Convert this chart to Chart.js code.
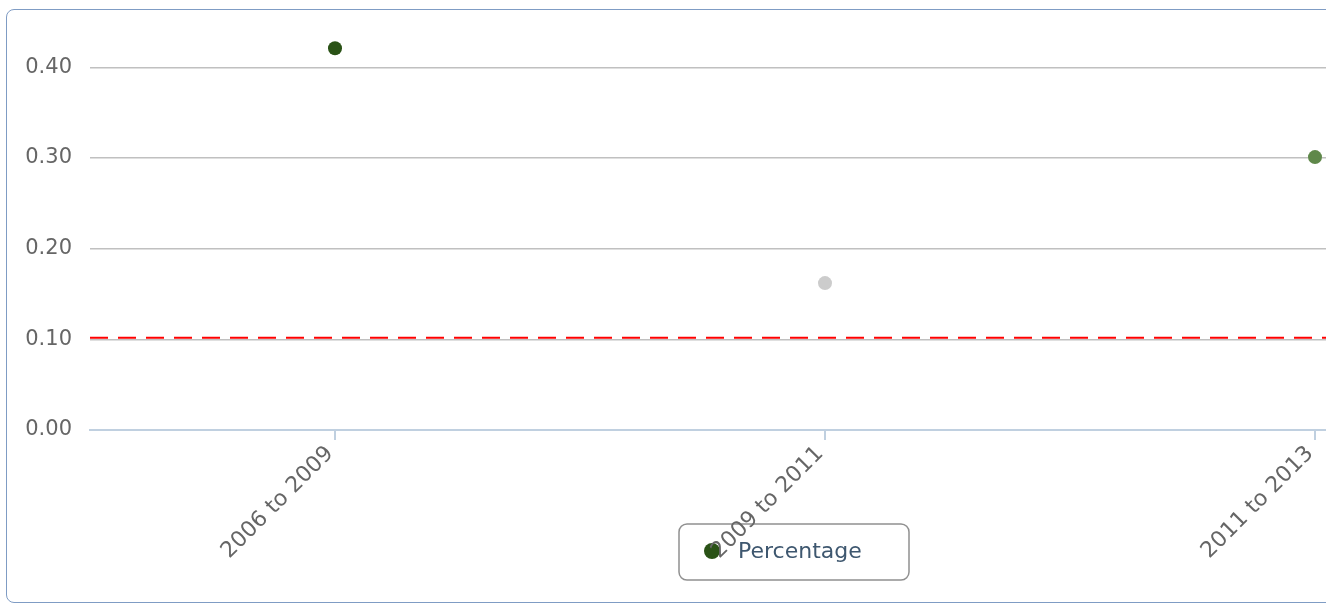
<!DOCTYPE html>
<html>
<head>
<meta charset="utf-8">
<title>Percentage</title>
<script src="https://cdn.jsdelivr.net/npm/chart.js@4"></script>
<style>
  html, body { margin: 0; padding: 0; background: #fff; overflow: hidden; }
  #box {
    position: absolute; left: 6px; top: 9px;
    width: 1574px; height: 592px;
    border: 1px solid #7f9cc4; border-radius: 8px;
  }
  #chart { display: block; }
</style>
</head>
<body>
<div id="box"><canvas id="chart" width="1574" height="592"></canvas></div>
<script>
// data
const categories = ['2006 to 2009', '2009 to 2011', '2011 to 2013'];
const percentage = [0.421, 0.162, 0.301];
const pointColors = ['#2a5216', '#cccccc', '#5f884a'];
const yTicks = [0, 0.1, 0.2, 0.3, 0.4];
const threshold = 0.1;
const seriesName = 'Percentage';

const FONT = 'DejaVu Sans, Verdana, sans-serif';

// red dashed threshold across the plot
const thresholdLine = {
  id: 'thresholdLine',
  afterDatasetsDraw(chart) {
    const { ctx, chartArea } = chart;
    const y = chart.scales.y.getPixelForValue(threshold) - 1.5;
    ctx.save();
    ctx.strokeStyle = '#ff0000';
    ctx.lineWidth = 2;
    ctx.setLineDash([18, 10]);
    ctx.beginPath();
    ctx.moveTo(chartArea.left, y);
    ctx.lineTo(chartArea.right, y);
    ctx.stroke();
    ctx.restore();
  }
};

// boxed legend under the plot, no fill so the tick label shows through
const boxLegend = {
  id: 'boxLegend',
  beforeDraw(chart) {
    const { ctx } = chart;
    const x = 672, y = 514, w = 230, h = 56;
    ctx.save();
    ctx.strokeStyle = '#909090';
    ctx.lineWidth = 1.5;
    ctx.beginPath();
    ctx.roundRect(x, y, w, h, 8);
    ctx.stroke();
    ctx.fillStyle = pointColors[0];
    ctx.beginPath();
    ctx.arc(705, 541, 8, 0, Math.PI * 2);
    ctx.fill();
    ctx.fillStyle = '#3e576f';
    ctx.font = '22px ' + FONT;
    ctx.textBaseline = 'middle';
    ctx.fillText(seriesName, 731, 542);
    ctx.restore();
  }
};

new Chart(document.getElementById('chart'), {
  type: 'line',
  data: {
    labels: categories,
    datasets: [{
      label: seriesName,
      data: percentage,
      showLine: false,
      pointRadius: 7,
      pointHoverRadius: 7,
      pointBorderWidth: 0,
      pointBackgroundColor: pointColors,
      pointBorderColor: pointColors
    }]
  },
  options: {
    responsive: false,
    animation: false,
    clip: false,
    layout: { padding: { left: 0, right: 21, top: 12, bottom: 0 } },
    plugins: {
      legend: { display: false },
      tooltip: { enabled: false }
    },
    scales: {
      x: {
        type: 'category',
        offset: true,
        border: { display: true, color: '#c0d0e0', width: 2 },
        grid: { offset: false, drawOnChartArea: false, drawTicks: true, tickLength: 10, color: '#c0d0e0', lineWidth: 2 },
        ticks: {
          color: '#666666', font: { family: FONT, size: 22 },
          minRotation: 45, maxRotation: 45, padding: 1, labelOffset: -5
        },
        afterFit: s => { s.height = 592 - 420; s.paddingLeft = 0; s.paddingRight = 0; }
      },
      y: {
        min: 0, max: 0.45,
        border: { display: false },
        grid: {
          drawTicks: false,
          color: c => (c.tick && c.tick.value === 0 ? 'rgba(0,0,0,0)' : '#c0c0c0'),
          lineWidth: 1.5
        },
        afterBuildTicks: s => { s.ticks = yTicks.map(v => ({ value: v })); },
        ticks: {
          color: '#666666', font: { family: FONT, size: 21 }, padding: 18,
          callback: v => v.toFixed(2)
        },
        afterFit: s => { s.width = 83; s.paddingTop = 0; s.paddingBottom = 0; }
      }
    }
  },
  plugins: [thresholdLine, boxLegend]
});
</script>
</body>
</html>
